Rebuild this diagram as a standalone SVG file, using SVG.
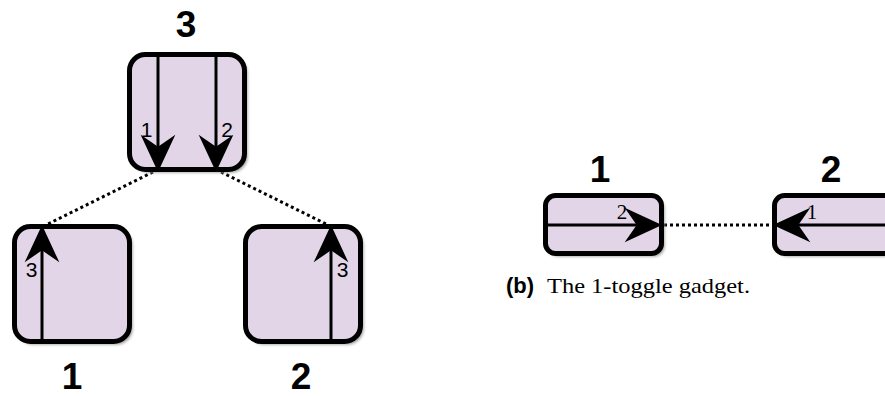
<svg xmlns="http://www.w3.org/2000/svg" width="885" height="396" viewBox="0 0 885 396">
<style>
.box{fill:#e1d5e7;stroke:#000;stroke-width:5}
.shadow{fill:#999;filter:url(#blur)}
.arrow{stroke:#000;stroke-width:3;fill:none;marker-end:url(#head)}
.dot{stroke:#000;stroke-width:3;stroke-dasharray:3 3;fill:none}
.big{font-family:"Liberation Sans",Arial,sans-serif;font-weight:bold;font-size:37px;text-anchor:middle;fill:#000}
.small{font-family:"Liberation Sans",Arial,sans-serif;font-size:21px;text-anchor:middle;fill:#000}
.smalls{font-family:"Liberation Serif","Times New Roman",serif;font-size:21px;text-anchor:middle;fill:#000}
.cap{font-family:"Liberation Serif","Times New Roman",serif;font-size:21px;fill:#000}
.capb{font-family:"Liberation Sans",Arial,sans-serif;font-weight:bold;font-size:22px;fill:#000}
</style>
<defs>
<filter id="blur" x="-20%" y="-20%" width="140%" height="140%"><feGaussianBlur stdDeviation="1.5"/></filter>
<marker id="head" markerUnits="userSpaceOnUse" markerWidth="40" markerHeight="40" viewBox="-20 -15 30 30" refX="0" refY="0" orient="auto" overflow="visible">
<path d="M9,0 L-19,-13 L-10,0 L-19,13 Z" fill="#000"/>
</marker>
</defs>
<g id="connectors">
<line class="dot" x1="153" y1="172" x2="46" y2="225"/>
<line class="dot" x1="221" y1="172" x2="328" y2="225"/>
<line class="dot" x1="664" y1="225" x2="772" y2="225"/>
</g>
<g id="node-top">
<rect class="shadow" x="132.5" y="57.5" width="115" height="115" rx="16"/>
<rect class="box" x="129.5" y="54.5" width="115" height="115" rx="16"/>
<line class="arrow" x1="158" y1="55" x2="158" y2="160"/>
<line class="arrow" x1="216" y1="55" x2="216" y2="160"/>
<text class="small" x="146.5" y="137">1</text>
<text class="small" x="227" y="137">2</text>
<text class="big" x="186" y="37">3</text>
</g>
<g id="node-left">
<rect class="shadow" x="17.5" y="229.5" width="115" height="115" rx="16"/>
<rect class="box" x="14.5" y="226.5" width="115" height="115" rx="16"/>
<line class="arrow" x1="42" y1="341" x2="42" y2="237"/>
<text class="small" x="31.5" y="277">3</text>
<text class="big" x="72" y="389">1</text>
</g>
<g id="node-right">
<rect class="shadow" x="248.5" y="229.5" width="115" height="115" rx="16"/>
<rect class="box" x="245.5" y="226.5" width="115" height="115" rx="16"/>
<line class="arrow" x1="331" y1="341" x2="331" y2="237"/>
<text class="small" x="342.5" y="277">3</text>
<text class="big" x="301" y="389">2</text>
</g>
<g id="gadget-node-1">
<rect class="shadow" x="548.5" y="198.5" width="116" height="58" rx="10"/>
<rect class="box" x="545.5" y="195.5" width="116" height="58" rx="10"/>
<line class="arrow" x1="546" y1="225" x2="650" y2="225"/>
<text class="smalls" x="622" y="219">2</text>
<text class="big" x="600" y="182">1</text>
</g>
<g id="gadget-node-2">
<rect class="shadow" x="777.5" y="198.5" width="130" height="58" rx="10"/>
<rect class="box" x="774.5" y="195.5" width="130" height="58" rx="10"/>
<line class="arrow" x1="890" y1="225" x2="785" y2="225"/>
<text class="smalls" x="812" y="219">1</text>
<text class="big" x="831" y="182">2</text>
</g>
<g id="caption">
<text class="capb" x="506" y="293">(b)</text>
<text class="cap" x="547" y="293" textLength="203" lengthAdjust="spacingAndGlyphs">The 1-toggle gadget.</text>
</g>
</svg>
